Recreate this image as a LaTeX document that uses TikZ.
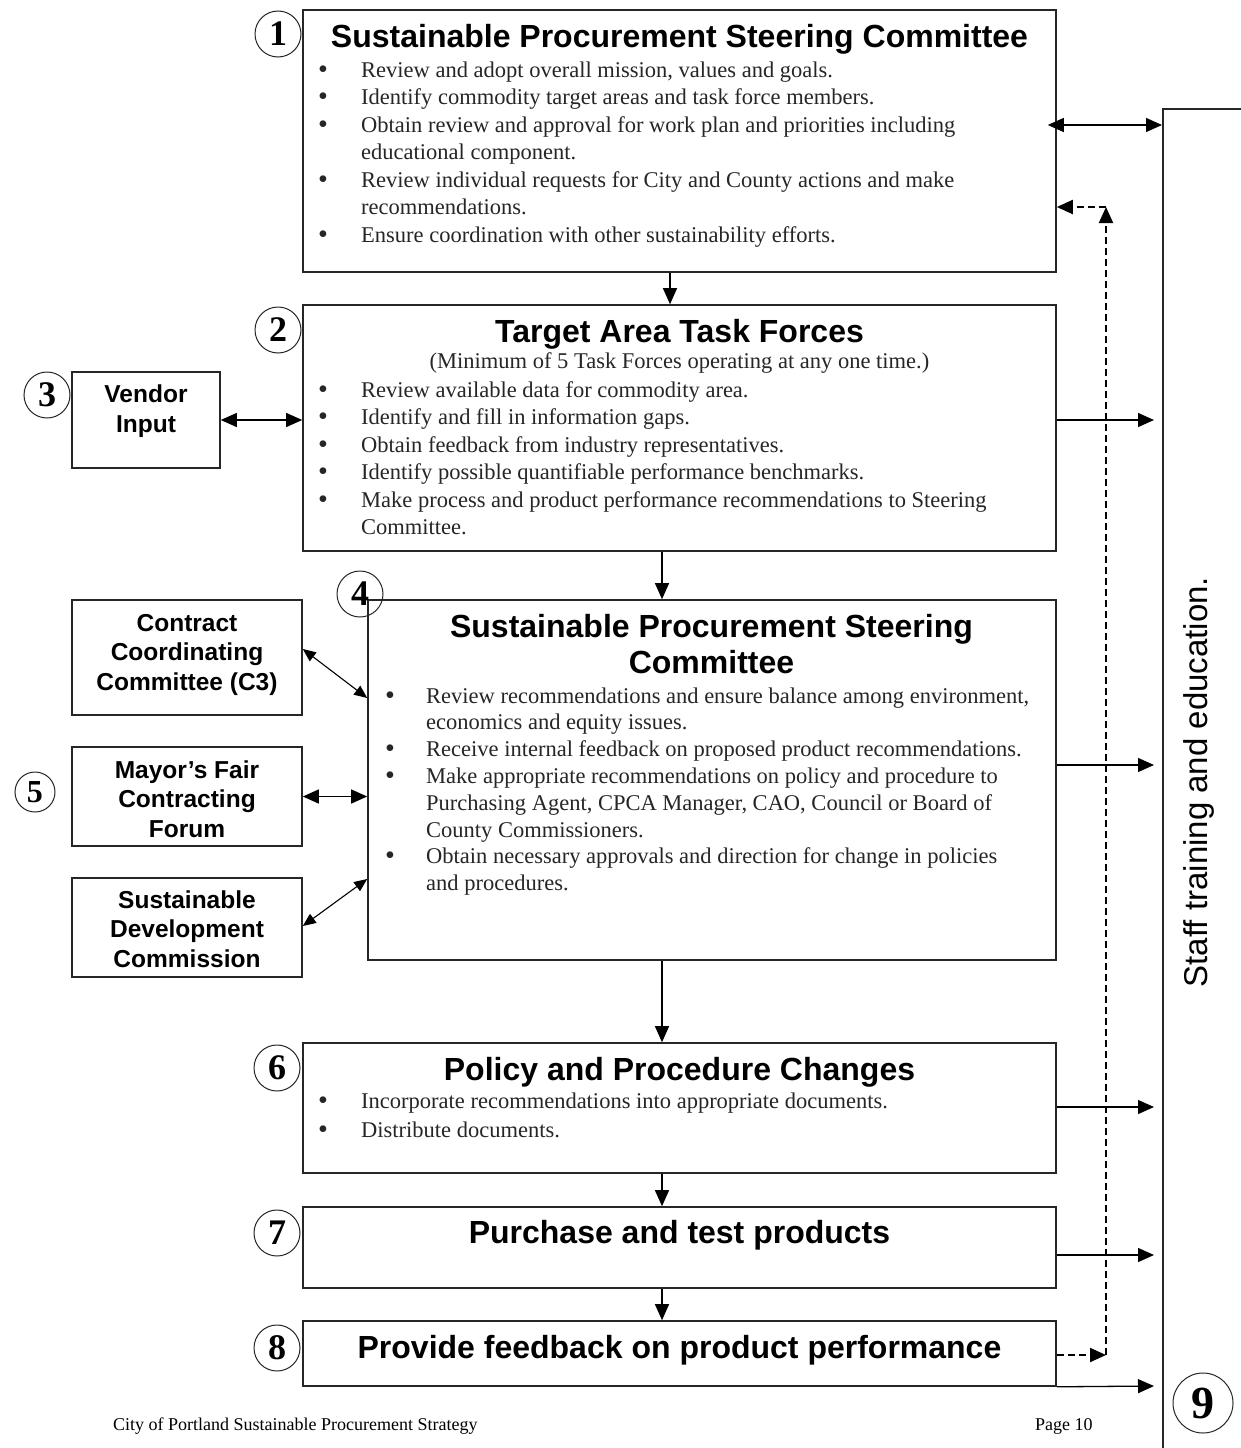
\documentclass[tikz,border=0pt]{standalone}
\usepackage{fontspec}
\usepackage{graphicx}
\setmainfont{Liberation Serif}
\newfontfamily\hsans{Liberation Sans}
\usetikzlibrary{arrows.meta}
\newenvironment{blist}[1][43pt]{\begin{tabular}[t]{@{}p{#1}@{}l@{}}}{\end{tabular}}
\newcommand\bul{\raisebox{-1pt}{\scalebox{1.25}{\textbullet}}}
\begin{document}
\begin{tikzpicture}[x=1pt,y=-1pt,
  box/.style={draw=black!85, line width=1.6pt, rectangle, inner sep=0pt},
  ttl/.style={anchor=base, inner sep=0pt, font=\hsans\bfseries\fontsize{32}{35}\selectfont, align=center},
  sbox/.style={anchor=base, inner sep=0pt, font=\hsans\bfseries\fontsize{24.5}{29.5}\selectfont, align=center},
  lst/.style={anchor=base west, inner sep=0pt, text=black!85, font=\fontsize{22.5}{27.5}\selectfont},
  num/.style={circle, draw=black!85, line width=1pt, minimum size=46pt, inner sep=0pt, font=\bfseries\fontsize{36}{36}\selectfont},
  arr/.style={line width=1.3pt, -{Triangle[length=16pt,width=14pt]}},
  darr/.style={line width=1.3pt, {Triangle[length=16pt,width=14pt]}-{Triangle[length=16pt,width=14pt]}},
  sdarr/.style={line width=1.1pt, {Triangle[length=13pt,width=11pt]}-{Triangle[length=13pt,width=11pt]}},
  dasharr/.style={line width=2pt, dash pattern=on 7pt off 4pt, -{Triangle[length=16pt,width=14pt]}}
]
\useasboundingbox (0,0) rectangle (1241,1448);
\clip (0,0) rectangle (1241,1448);
\fill[white] (0,0) rectangle (1241,1448);

% boxes
\node[box, minimum width=753pt, minimum height=262pt] (b1) at (679.5,141) {};
\node[box, minimum width=753pt, minimum height=246pt] (b2) at (679.5,428) {};
\node[box, minimum width=148pt, minimum height=96pt] (vend) at (146,420) {};
\node[box, minimum width=688pt, minimum height=360pt] (b4) at (712,780) {};
\node[box, minimum width=230pt, minimum height=115pt] (c3) at (187,657.5) {};
\node[box, minimum width=230pt, minimum height=99pt] (mayor) at (187,796.5) {};
\node[box, minimum width=230pt, minimum height=99pt] (sdc) at (187,927.5) {};
\node[box, minimum width=753pt, minimum height=130pt] (b6) at (679.5,1108) {};
\node[box, minimum width=753pt, minimum height=81pt] (b7) at (679.5,1247.5) {};
\node[box, minimum width=753pt, minimum height=65pt] (b8) at (679.5,1353.5) {};
\node[box, minimum width=300pt, minimum height=1500pt, anchor=north west] (staff) at (1162,108) {};

% box 1
\node[ttl] (t1) at (679.5,47) {Sustainable Procurement Steering Committee};
\node[lst] (l1) at (318,77) {\begin{blist}
\bul & Review and adopt overall mission, values and goals.\\
\bul & Identify commodity target areas and task force members.\\
\bul & Obtain review and approval for work plan and priorities including\\
 & educational component.\\
\bul & Review individual requests for City and County actions and make\\
 & recommendations.\\
\bul & Ensure coordination with other sustainability efforts.
\end{blist}};

% box 2
\node[ttl] (t2) at (679.5,342) {Target Area Task Forces};
\node[anchor=base, inner sep=0pt, text=black!85, font=\fontsize{22.5}{27.5}\selectfont] (s2) at (679.5,368) {(Minimum of 5 Task Forces operating at any one time.)};
\node[lst] (l2) at (318,397) {\begin{blist}
\bul & Review available data for commodity area.\\
\bul & Identify and fill in information gaps.\\
\bul & Obtain feedback from industry representatives.\\
\bul & Identify possible quantifiable performance benchmarks.\\
\bul & Make process and product performance recommendations to Steering\\
 & Committee.
\end{blist}};

% vendor
\node[sbox] (tv) at (146,432) {Vendor\\Input};

% box 4
\node[ttl, font=\hsans\bfseries\fontsize{32}{36}\selectfont] (t4) at (711.5,673) {Sustainable Procurement Steering\\Committee};
\node[lst, font=\fontsize{22.5}{26.8}\selectfont] (l4) at (385,703) {\begin{blist}[41pt]
\bul & Review recommendations and ensure balance among environment,\\
 & economics and equity issues.\\
\bul & Receive internal feedback on proposed product recommendations.\\
\bul & Make appropriate recommendations on policy and procedure to\\
 & Purchasing Agent, CPCA Manager, CAO, Council or Board of\\
 & County Commissioners.\\
\bul & Obtain necessary approvals and direction for change in policies\\
 & and procedures.
\end{blist}};

% left boxes
\node[sbox] (tc3) at (187,690) {Contract\\Coordinating\\Committee (C3)};
\node[sbox] (tmy) at (187,837) {Mayor’s Fair\\Contracting\\Forum};
\node[sbox] (tsd) at (187,967) {Sustainable\\Development\\Commission};

% box 6,7,8
\node[ttl] (t6) at (679.5,1080) {Policy and Procedure Changes};
\node[lst, font=\fontsize{22.5}{29}\selectfont] (l6) at (318,1108) {\begin{blist}
\bul & Incorporate recommendations into appropriate documents.\\
\bul & Distribute documents.
\end{blist}};
\node[ttl] (t7) at (679.5,1243) {Purchase and test products};
\node[ttl] (t8) at (679.5,1358) {Provide feedback on product performance};

% staff text
\node[rotate=90, inner sep=0pt, font=\hsans\fontsize{33}{33}\selectfont] (tst) at (1199,782) {Staff training and education.};

% footer
\node[anchor=base west, inner sep=0pt, font=\fontsize{18}{18}\selectfont] (ft1) at (113,1430) {City of Portland Sustainable Procurement Strategy};
\node[anchor=base west, inner sep=0pt, font=\fontsize{18}{18}\selectfont] (ft2) at (1035,1430) {Page 10};

% numbers
\node[num] (n1) at (278,34) {1};
\node[num] (n2) at (278,330) {2};
\node[num] (n3) at (47,395) {3};
\node[num] (n4) at (360,594) {4};
\node[num, minimum size=40pt, font=\bfseries\fontsize{32}{32}\selectfont] (n5) at (35,792) {5};
\node[num] (n6) at (277,1068) {6};
\node[num] (n7) at (277,1233) {7};
\node[num] (n8) at (277,1348) {8};
\node[num, minimum size=60pt, font=\bfseries\fontsize{46}{46}\selectfont] (n9) at (1203,1403) {9};

% helper coordinates
\coordinate (x670) at (670,0);
\coordinate (x662) at (662,0);
\coordinate (stx) at (1154,0);
\coordinate (y125) at (0,125);
\coordinate (y420) at (0,420);
\coordinate (y765) at (0,765);
\coordinate (y1107) at (0,1107);
\coordinate (y1255) at (0,1255);
\coordinate (y1386) at (0,1386);
\coordinate (ycA) at (0,649);
\coordinate (ycB) at (0,698);
\coordinate (ysA) at (0,926);
\coordinate (ysB) at (0,879);
\coordinate (fbA) at (1106,1355);
\coordinate (fbB) at (1106,207);

% vertical flow
\draw[arr] (b1.south -| x670) -- (b2.north -| x670);
\draw[arr] (b2.south -| x662) -- (b4.north -| x662);
\draw[arr] (b4.south -| x662) -- (b6.north -| x662);
\draw[arr] (b6.south -| x662) -- (b7.north -| x662);
\draw[arr] (b7.south -| x662) -- (b8.north -| x662);

% left connections
\draw[darr] (vend.east) -- (b2.west |- vend.east);
\draw[darr] (mayor.east) -- (b4.west |- mayor.east);
\draw[sdarr] (c3.east |- ycA) -- (b4.west |- ycB);
\draw[sdarr] (sdc.east |- ysA) -- (b4.west |- ysB);

% right connections
\draw[darr] ([xshift=-9pt]b1.east |- y125) -- (staff.west |- y125);
\draw[arr] (b2.east |- y420) -- (stx |- y420);
\draw[arr] (b4.east |- y765) -- (stx |- y765);
\draw[arr] (b6.east |- y1107) -- (stx |- y1107);
\draw[arr] (b7.east |- y1255) -- (stx |- y1255);
\draw[arr] (b8.south east) -- (stx |- y1386);

% dashed feedback
\draw[dasharr] (b8.east |- fbA) -- (fbA);
\draw[dasharr] (fbA) -- (fbB);
\draw[dasharr] (fbB) -- (b1.east |- fbB);
\end{tikzpicture}
\end{document}
